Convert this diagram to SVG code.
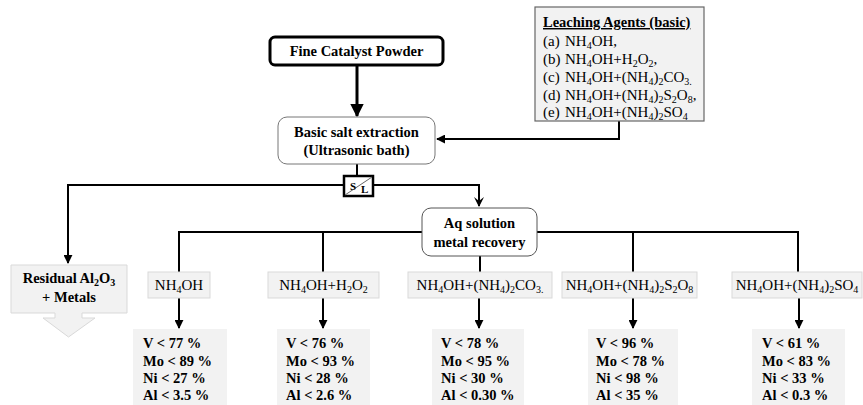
<svg xmlns="http://www.w3.org/2000/svg" width="863" height="405" viewBox="0 0 863 405">
<style>
text{font-family:"Liberation Serif","Times New Roman",serif;fill:#000}
.b{font-weight:bold;font-size:14.5px}
.n{font-size:15px}
.lab{fill:#f2f2f2;stroke:#d9d9d9;stroke-width:1}
.res{fill:#f2f2f2;stroke:none}
.ln{fill:none;stroke:#000;stroke-width:2}
.sub{font-size:10px}
</style>
<defs>
<marker id="ah" viewBox="0 0 10 10" refX="9" refY="5" markerWidth="4.5" markerHeight="4.5" orient="auto" markerUnits="strokeWidth">
<path d="M0,0 L10,5 L0,10 z" fill="#000"/>
</marker>
<marker id="ahv" viewBox="0 0 10 10" refX="9" refY="5" markerWidth="5" markerHeight="5" orient="auto" markerUnits="strokeWidth">
<path d="M0,0 L10,5 L0,10 L4,5 z" fill="#000"/>
</marker>
</defs>

<g id="connectors">
<line class="ln" x1="357" y1="66" x2="357" y2="116" style="stroke-width:3" marker-end="url(#ah)"/>
<polyline class="ln" points="619,121 619,139 437,139" marker-end="url(#ah)"/>
<line class="ln" x1="357" y1="164" x2="357" y2="176"/>
<polyline class="ln" points="343,185 68,185 68,263" marker-end="url(#ah)"/>
<polyline class="ln" points="373,185 479,185 479,206" marker-end="url(#ahv)"/>
<polyline class="ln" points="179,272 179,232 422,232"/>
<line class="ln" x1="323" y1="232" x2="323" y2="272"/>
<polyline class="ln" points="537,232 798,232 798,272"/>
<line class="ln" x1="633" y1="232" x2="633" y2="272"/>
<line class="ln" x1="480" y1="256" x2="480" y2="272"/>
<line class="ln" x1="179" y1="298" x2="179" y2="328" marker-end="url(#ah)"/>
<line class="ln" x1="323" y1="298" x2="323" y2="328" marker-end="url(#ah)"/>
<line class="ln" x1="479" y1="298" x2="479" y2="328" marker-end="url(#ah)"/>
<line class="ln" x1="633" y1="298" x2="633" y2="328" marker-end="url(#ah)"/>
<line class="ln" x1="799" y1="298" x2="799" y2="328" marker-end="url(#ah)"/>
</g>

<g id="leaching">
<rect x="535" y="7" width="169" height="114" fill="#f2f2f2" stroke="#666" stroke-width="1.2"/>
<text x="543" y="27" class="b" text-decoration="underline">Leaching Agents (basic)</text>
<text x="543" y="46" class="n">(a)<tspan x="565">NH</tspan><tspan class="sub" dy="3">4</tspan><tspan dy="-3">OH,</tspan></text>
<text x="543" y="64" class="n">(b)<tspan x="565">NH</tspan><tspan class="sub" dy="3">4</tspan><tspan dy="-3">OH+H</tspan><tspan class="sub" dy="3">2</tspan><tspan dy="-3">O</tspan><tspan class="sub" dy="3">2</tspan><tspan dy="-3">,</tspan></text>
<text x="543" y="82" class="n">(c)<tspan x="565">NH</tspan><tspan class="sub" dy="3">4</tspan><tspan dy="-3">OH+(NH</tspan><tspan class="sub" dy="3">4</tspan><tspan dy="-3">)</tspan><tspan class="sub" dy="3">2</tspan><tspan dy="-3">CO</tspan><tspan class="sub" dy="3">3.</tspan></text>
<text x="543" y="100" class="n">(d)<tspan x="565">NH</tspan><tspan class="sub" dy="3">4</tspan><tspan dy="-3">OH+(NH</tspan><tspan class="sub" dy="3">4</tspan><tspan dy="-3">)</tspan><tspan class="sub" dy="3">2</tspan><tspan dy="-3">S</tspan><tspan class="sub" dy="3">2</tspan><tspan dy="-3">O</tspan><tspan class="sub" dy="3">8</tspan><tspan dy="-3">,</tspan></text>
<text x="543" y="117" class="n">(e)<tspan x="565">NH</tspan><tspan class="sub" dy="3">4</tspan><tspan dy="-3">OH+(NH</tspan><tspan class="sub" dy="3">4</tspan><tspan dy="-3">)</tspan><tspan class="sub" dy="3">2</tspan><tspan dy="-3">SO</tspan><tspan class="sub" dy="3">4</tspan></text>
</g>

<g id="fine">
<rect x="270" y="37" width="173" height="28" rx="5" fill="#fff" stroke="#000" stroke-width="3"/>
<text x="356.5" y="56" class="b" text-anchor="middle">Fine Catalyst Powder</text>
</g>

<g id="basic">
<rect x="278" y="117" width="157" height="47" rx="9" fill="#fff" stroke="#777" stroke-width="1"/>
<text x="356.5" y="137" class="b" text-anchor="middle">Basic salt extraction</text>
<text x="356.5" y="155" class="b" text-anchor="middle">(Ultrasonic bath)</text>
</g>

<g id="sl">
<rect x="344" y="176" width="29" height="20" fill="#fff" stroke="#000" stroke-width="2.5"/>
<line x1="345" y1="195" x2="372" y2="177" stroke="#666" stroke-width="1"/>
<text x="350" y="190" font-size="11" font-weight="bold">S</text>
<text x="361" y="193" font-size="11" font-weight="bold">L</text>
</g>

<g id="aq">
<rect x="422" y="208" width="115" height="48" rx="9" fill="#fff" stroke="#555" stroke-width="1"/>
<text x="479.5" y="228" class="b" text-anchor="middle">Aq solution</text>
<text x="479.5" y="247" class="b" text-anchor="middle">metal recovery</text>
</g>

<g id="residual">
<path d="M11,265 H127 V313 H82 V318 H95 L68.5,337 L43,318 H55 V313 H11 Z" fill="#f2f2f2" stroke="#d9d9d9" stroke-width="1"/>
<text x="69" y="283" class="b" text-anchor="middle">Residual Al<tspan class="sub" dy="3">2</tspan><tspan dy="-3">O</tspan><tspan class="sub" dy="3">3</tspan></text>
<text x="69" y="302" class="b" text-anchor="middle">+ Metals</text>
</g>

<g id="l1">
<rect class="lab" x="148" y="272" width="62" height="26"/>
<text x="179" y="290" class="n" text-anchor="middle">NH<tspan class="sub" dy="3">4</tspan><tspan dy="-3">OH</tspan></text>
</g>
<g id="l2">
<rect class="lab" x="268" y="272" width="111" height="26"/>
<text x="323.5" y="290" class="n" text-anchor="middle">NH<tspan class="sub" dy="3">4</tspan><tspan dy="-3">OH+H</tspan><tspan class="sub" dy="3">2</tspan><tspan dy="-3">O</tspan><tspan class="sub" dy="3">2</tspan></text>
</g>
<g id="l3">
<rect class="lab" x="408" y="272" width="144" height="26"/>
<text x="480" y="290" class="n" text-anchor="middle">NH<tspan class="sub" dy="3">4</tspan><tspan dy="-3">OH+(NH</tspan><tspan class="sub" dy="3">4</tspan><tspan dy="-3">)</tspan><tspan class="sub" dy="3">2</tspan><tspan dy="-3">CO</tspan><tspan class="sub" dy="3">3.</tspan></text>
</g>
<g id="l4">
<rect class="lab" x="562" y="272" width="135" height="26"/>
<text x="629.5" y="290" class="n" text-anchor="middle">NH<tspan class="sub" dy="3">4</tspan><tspan dy="-3">OH+(NH</tspan><tspan class="sub" dy="3">4</tspan><tspan dy="-3">)</tspan><tspan class="sub" dy="3">2</tspan><tspan dy="-3">S</tspan><tspan class="sub" dy="3">2</tspan><tspan dy="-3">O</tspan><tspan class="sub" dy="3">8</tspan></text>
</g>
<g id="l5">
<rect class="lab" x="732" y="272" width="130" height="26"/>
<text x="797" y="290" class="n" text-anchor="middle">NH<tspan class="sub" dy="3">4</tspan><tspan dy="-3">OH+(NH</tspan><tspan class="sub" dy="3">4</tspan><tspan dy="-3">)</tspan><tspan class="sub" dy="3">2</tspan><tspan dy="-3">SO</tspan><tspan class="sub" dy="3">4</tspan></text>
</g>

<g id="r1">
<rect class="res" x="133" y="329" width="94" height="76"/>
<text class="b"><tspan x="143" y="348">V &lt; 77 %</tspan><tspan x="143" y="366">Mo &lt; 89 %</tspan><tspan x="143" y="383">Ni &lt; 27 %</tspan><tspan x="143" y="400">Al &lt; 3.5 %</tspan></text>
</g>
<g id="r2">
<rect class="res" x="277" y="329" width="93" height="76"/>
<text class="b"><tspan x="286" y="348">V &lt; 76 %</tspan><tspan x="286" y="366">Mo &lt; 93 %</tspan><tspan x="286" y="383">Ni &lt; 28 %</tspan><tspan x="286" y="400">Al &lt; 2.6 %</tspan></text>
</g>
<g id="r3">
<rect class="res" x="432" y="329" width="92" height="76"/>
<text class="b"><tspan x="441" y="348">V &lt; 78 %</tspan><tspan x="441" y="366">Mo &lt; 95 %</tspan><tspan x="441" y="383">Ni &lt; 30 %</tspan><tspan x="441" y="400">Al &lt; 0.30 %</tspan></text>
</g>
<g id="r4">
<rect class="res" x="588" y="329" width="90" height="76"/>
<text class="b"><tspan x="596" y="348">V &lt; 96 %</tspan><tspan x="596" y="366">Mo &lt; 78 %</tspan><tspan x="596" y="383">Ni &lt; 98 %</tspan><tspan x="596" y="400">Al &lt; 35 %</tspan></text>
</g>
<g id="r5">
<rect class="res" x="752" y="329" width="93" height="76"/>
<text class="b"><tspan x="762" y="348">V &lt; 61 %</tspan><tspan x="762" y="366">Mo &lt; 83 %</tspan><tspan x="762" y="383">Ni &lt; 33 %</tspan><tspan x="762" y="400">Al &lt; 0.3 %</tspan></text>
</g>
</svg>
